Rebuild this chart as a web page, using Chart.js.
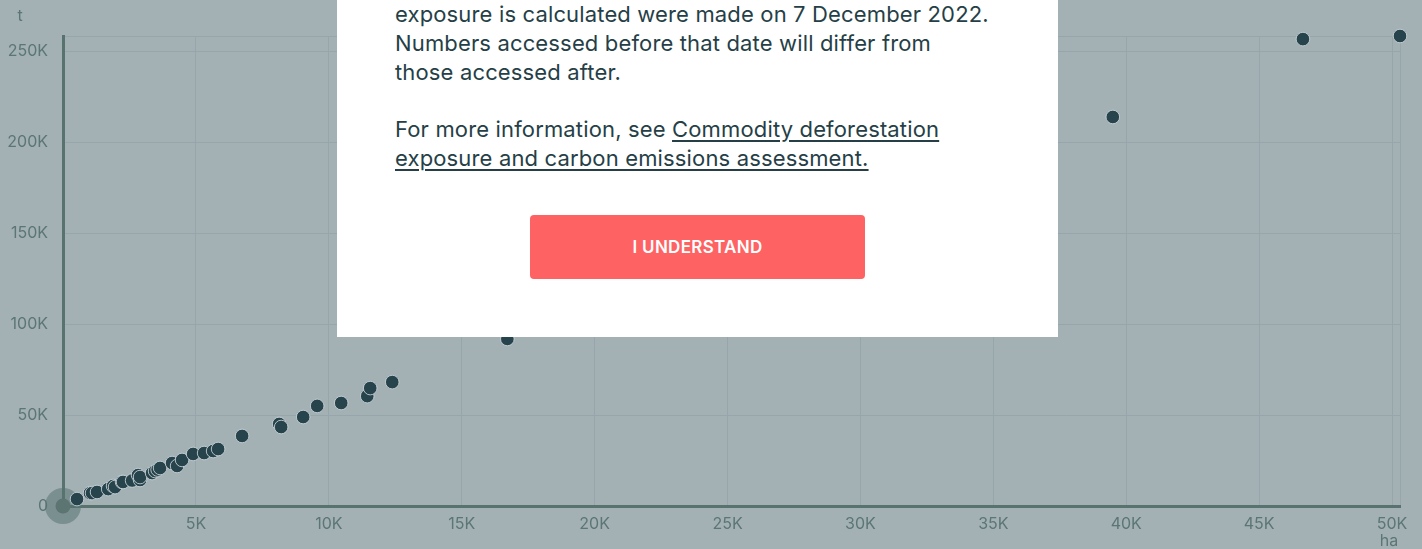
<!DOCTYPE html>
<html>
<head>
<meta charset="utf-8">
<script src="https://cdn.jsdelivr.net/npm/chart.js@4.4.1/dist/chart.umd.min.js"></script>
<style>
  html, body { margin: 0; padding: 0; width: 1422px; height: 549px; overflow: hidden; background: #a3b1b5; }
  #chartBox { position: absolute; left: 0; top: 0; width: 1422px; height: 549px; }
  #modal { position: absolute; left: 337px; top: -30px; width: 721px; height: 367px; background: #ffffff; }
  .txt { position: absolute; left: 395px; width: 640px; font-family: Inter, "Open Sans", sans-serif; font-size: 22px; letter-spacing: 0.15px; line-height: 29px; color: #263f47; margin: 0; }
  .txt a { color: #263f47; text-decoration: underline; text-underline-offset: 3px; }
  #btn { position: absolute; left: 530px; top: 215px; width: 335px; height: 64px; border-radius: 4px; background: #ff6262;
         color: #ffffff; font-family: Inter, "Open Sans", sans-serif; font-weight: 600; font-size: 17px; letter-spacing: 0.3px;
         display: flex; align-items: center; justify-content: center; }
</style>
</head>
<body>
<div id="chartBox"><canvas id="c" width="1422" height="549"></canvas></div>
<div id="modal"></div>
<p class="txt" style="top:0px;">exposure is calculated were made on 7 December 2022.<br>Numbers accessed before that date will differ from<br>those accessed after.</p>
<p class="txt" style="top:115px;">For more information, see <a>Commodity deforestation<br>exposure and carbon emissions assessment.</a></p>
<div id="btn">I UNDERSTAND</div>
<script>
// Deforestation exposure (ha) vs emissions (t)
const hectares = [0, 527, 1017, 1092, 1280, 1700, 1883, 1958, 2221, 2259, 2600, 2824, 2899, 2899, 3351, 3464, 3560, 3652, 4104, 4292, 4480, 4895, 5309, 5648, 5836, 6739, 8132, 8208, 9036, 9563, 10467, 11446, 11558, 12387, 16717, 39495, 46648, 50300];
const tonnes = [0, 3800, 7100, 7100, 7700, 9300, 11000, 10400, 13200, 13200, 14000, 17000, 14300, 15900, 18100, 19200, 20000, 20900, 23600, 22000, 25300, 28600, 29100, 30200, 31300, 38500, 45100, 43400, 48900, 55000, 56600, 60400, 64800, 68100, 91800, 213800, 256600, 258300];
const highlightIndex = 0;

const xTickValues = [0, 5000, 10000, 15000, 20000, 25000, 30000, 35000, 40000, 45000, 50000];
const xTickLabels = ['', '5K', '10K', '15K', '20K', '25K', '30K', '35K', '40K', '45K', '50K'];
const yTickValues = [0, 50000, 100000, 150000, 200000, 250000];
const yTickLabels = ['0', '50K', '100K', '150K', '200K', '250K'];
const xTitle = 'ha';
const yTitle = 't';

const points = hectares.map((x, i) => ({ x: x, y: tonnes[i] }));
const highlight = [points[highlightIndex]];

const TICK_COLOR = '#5b7674';
const AXIS_COLOR = '#587270';
const GRID_COLOR = '#97a6aa';
const POINT_COLOR = '#27434c';
const FONT = 'Inter, "Open Sans", sans-serif';

const titlesPlugin = {
  id: 'axisTitles',
  afterDraw(chart) {
    const ctx = chart.ctx;
    const a = chart.chartArea;
    ctx.save();
    ctx.fillStyle = TICK_COLOR;
    ctx.font = '16px ' + FONT;
    ctx.textAlign = 'center';
    ctx.textBaseline = 'middle';
    ctx.fillText(yTitle, a.left - 43, a.top - 20);
    ctx.fillText(xTitle, chart.scales.x.right - 11, a.bottom + 35);
    ctx.restore();
  }
};

function buildTicks(values) {
  return function (scale) {
    const t = values.map(v => ({ value: v }));
    if (scale.max > values[values.length - 1]) t.push({ value: scale.max });
    scale.ticks = t;
  };
}
function labelFor(values, labels) {
  return function (v) {
    const i = values.indexOf(v);
    return i >= 0 ? labels[i] : '';
  };
}

new Chart(document.getElementById('c'), {
  type: 'scatter',
  data: {
    datasets: [
      {
        data: points,
        backgroundColor: (c) => c.dataIndex === highlightIndex ? '#5c7472' : POINT_COLOR,
        borderColor: (c) => c.dataIndex === highlightIndex ? 'rgba(0,0,0,0)' : 'rgba(205,214,217,0.85)',
        borderWidth: 1,
        pointRadius: (c) => c.dataIndex === highlightIndex ? 7.5 : 6.8,
        clip: false
      },
      {
        data: highlight,
        backgroundColor: 'rgba(90,115,113,0.55)',
        borderWidth: 0,
        pointRadius: 18,
        clip: false
      }
    ]
  },
  options: {
    responsive: false,
    devicePixelRatio: 1,
    animation: false,
    events: [],
    layout: { padding: { left: 0, top: 36, right: 22, bottom: 0 } },
    plugins: { legend: { display: false }, tooltip: { enabled: false } },
    scales: {
      x: {
        type: 'linear',
        min: 0,
        max: Math.max(...hectares),
        afterBuildTicks: buildTicks(xTickValues),
        afterFit: (s) => { s.height = 43; },
        grid: { color: GRID_COLOR, lineWidth: 1, drawTicks: false },
        border: { color: AXIS_COLOR, width: 3 },
        ticks: { callback: labelFor(xTickValues, xTickLabels), color: TICK_COLOR, font: { family: FONT, size: 16 }, padding: 9, autoSkip: false, maxRotation: 0 }
      },
      y: {
        type: 'linear',
        min: 0,
        max: Math.max(...tonnes),
        afterBuildTicks: buildTicks(yTickValues),
        afterFit: (s) => { s.width = 63; },
        grid: { color: GRID_COLOR, lineWidth: 1, drawTicks: false },
        border: { color: AXIS_COLOR, width: 3 },
        ticks: { callback: labelFor(yTickValues, yTickLabels), color: TICK_COLOR, font: { family: FONT, size: 16 }, padding: 15, autoSkip: false }
      }
    }
  },
  plugins: [titlesPlugin]
});
</script>
</body>
</html>
